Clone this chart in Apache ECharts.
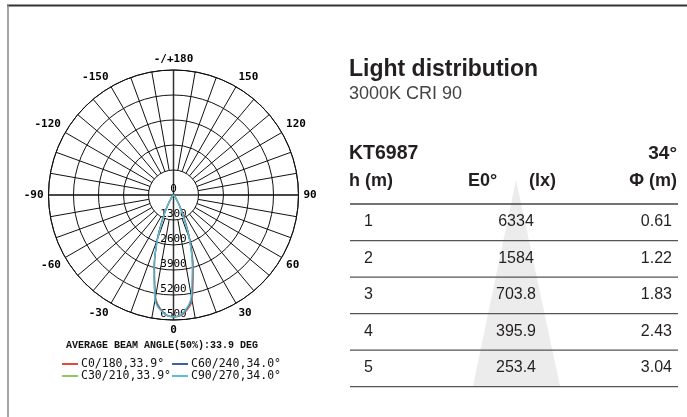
<!DOCTYPE html>
<html>
<head>
<meta charset="utf-8">
<title>Light distribution</title>
<script src="https://cdn.jsdelivr.net/npm/echarts@6.0.0/dist/echarts.min.js"></script>
<style>
  html, body { margin: 0; padding: 0; background: #fff; }
  #chart { width: 687px; height: 417px; }
</style>
</head>
<body>
<div id="chart"></div>
<script>
// gamma angles (deg), 0 = straight down
var gammaDeg = [-90, -80, -70, -60, -50, -45, -40, -35, -30, -25, -20, -15, -10, -5, 0,
                5, 10, 15, 20, 25, 30, 35, 40, 45, 50, 60, 70, 80, 90];

// intensity (cd) per C plane
var c0Data  = [0, 2, 4, 8, 20, 45, 100, 230, 560, 1260, 2450, 3820, 5380, 6120, 6334,
               6180, 5560, 3960, 2520, 1290, 570, 235, 100, 45, 20, 8, 4, 2, 0];
var c30Data = [0, 2, 4, 8, 20, 44, 98, 225, 550, 1240, 2430, 3840, 5420, 6130, 6334,
               6150, 5470, 3880, 2460, 1250, 555, 228, 98, 44, 20, 8, 4, 2, 0];
var c60Data = [0, 2, 4, 8, 20, 46, 102, 232, 565, 1270, 2470, 3880, 5460, 6140, 6334,
               6130, 5420, 3850, 2440, 1240, 550, 226, 98, 44, 20, 8, 4, 2, 0];
var c90Data = [0, 2, 4, 8, 20, 45, 98, 220, 530, 1180, 2400, 3920, 5560, 6160, 6334,
               6100, 5320, 3760, 2380, 1160, 500, 205, 90, 42, 20, 8, 4, 2, 0];

var seriesNames = ['C0/180,33.9°', 'C30/210,33.9°', 'C60/240,34.0°', 'C90/270,34.0°'];
var seriesColors = ['#e8453f', '#8fc85c', '#3d5ea8', '#5cbfd6'];

var radiusTicks = [0, 1300, 2600, 3900, 5200, 6500];
var beamText = 'AVERAGE BEAM ANGLE(50%):33.9 DEG';

// table on the right
var tableTitle = 'Light distribution';
var tableSub = '3000K CRI 90';
var modelName = 'KT6987';
var modelAngle = '34°';
var headers = ['h (m)', 'E0°', '(lx)', 'Φ (m)'];
var heights = ['1', '2', '3', '4', '5'];
var luxValues = ['6334', '1584', '703.8', '395.9', '253.4'];
var diameters = ['0.61', '1.22', '1.83', '2.43', '3.04'];

var monoFont = '"DejaVu Sans Mono", monospace';
var sansFont = '"Liberation Sans", Arial, sans-serif';

var cx = 173.5, cy = 195, R = 125;

function planeData(vals) {
  var out = [];
  for (var i = 0; i < gammaDeg.length; i++) {
    var a = gammaDeg[i] < 0 ? gammaDeg[i] + 360 : gammaDeg[i];
    out.push([vals[i], a]);
  }
  return out;
}

var allData = [c0Data, c30Data, c60Data, c90Data];
var series = [];
for (var s = 0; s < allData.length; s++) {
  series.push({
    name: seriesNames[s],
    type: 'line',
    coordinateSystem: 'polar',
    polarIndex: 0,
    symbol: 'none',
    smooth: 0.35,
    lineStyle: { color: seriesColors[s], width: 1.3 },
    itemStyle: { color: seriesColors[s] },
    data: planeData(allData[s]),
    z: 5
  });
}

// graphic elements for the table
var graphics = [];
// frame
graphics.push({ type: 'line', shape: { x1: 7, y1: 5.5, x2: 687, y2: 5.5 }, style: { stroke: '#333', lineWidth: 2 } });
graphics.push({ type: 'line', shape: { x1: 8, y1: 5, x2: 8, y2: 417 }, style: { stroke: '#888', lineWidth: 1.5 } });
// beam cone
graphics.push({ type: 'polygon', z: 0, shape: { points: [[516, 180], [473, 386], [560, 386]] }, style: { fill: '#ececec' } });

graphics.push({ type: 'text', x: 349, y: 70, style: { text: tableTitle, font: 'bold 23px ' + sansFont, fill: '#231f20', verticalAlign: 'middle' } });
graphics.push({ type: 'text', x: 349, y: 94, style: { text: tableSub, font: '18px ' + sansFont, fill: '#444', verticalAlign: 'middle' } });
graphics.push({ type: 'text', x: 349, y: 153.5, style: { text: modelName, font: 'bold 19.5px ' + sansFont, fill: '#231f20', verticalAlign: 'middle' } });
graphics.push({ type: 'text', x: 677, y: 153.5, style: { text: modelAngle, font: 'bold 19px ' + sansFont, fill: '#231f20', align: 'right', verticalAlign: 'middle' } });

var headX = [349, 468, 529, 677];
var headAlign = ['left', 'left', 'left', 'right'];
for (var h = 0; h < headers.length; h++) {
  graphics.push({ type: 'text', x: headX[h], y: 181.5, style: { text: headers[h], font: 'bold 18px ' + sansFont, fill: '#231f20', align: headAlign[h], verticalAlign: 'middle' } });
}
graphics.push({ type: 'line', shape: { x1: 350, y1: 204, x2: 678, y2: 204 }, style: { stroke: '#444', lineWidth: 1.5 } });

for (var r = 0; r < heights.length; r++) {
  var ty = 221.5 + r * 36.6;
  graphics.push({ type: 'text', x: 364, y: ty, style: { text: heights[r], font: '16px ' + sansFont, fill: '#231f20', verticalAlign: 'middle' } });
  graphics.push({ type: 'text', x: 516, y: ty, style: { text: luxValues[r], font: '16px ' + sansFont, fill: '#231f20', align: 'center', verticalAlign: 'middle' } });
  graphics.push({ type: 'text', x: 672, y: ty, style: { text: diameters[r], font: '16px ' + sansFont, fill: '#231f20', align: 'right', verticalAlign: 'middle' } });
  var ly = 240.6 + r * 36.5;
  graphics.push({ type: 'line', shape: { x1: 350, y1: ly, x2: 678, y2: ly }, style: { stroke: '#555', lineWidth: 1.2 } });
}

graphics.push({ type: 'text', x: 162, y: 345, style: { text: beamText, font: 'bold 10px "Liberation Mono", monospace', fill: '#111', align: 'center', verticalAlign: 'middle' } });

var myChart = echarts.init(document.getElementById('chart'), null, { renderer: 'canvas' });
myChart.setOption({
  animation: false,
  backgroundColor: '#fff',
  polar: [
    { center: [cx, cy], radius: [0, R] },
    { center: [cx, cy], radius: [25, R] }
  ],
  angleAxis: [
    {
      // main cross + outer circle
      polarIndex: 0,
      type: 'value', min: 0, max: 360, interval: 90,
      startAngle: -90, clockwise: false,
      axisLine: { show: true, lineStyle: { color: '#111', width: 1 } },
      axisTick: { show: false },
      axisLabel: { show: false },
      splitLine: { show: true, lineStyle: { color: '#333', width: 1.5 } },
      z: 2
    },
    {
      // 10 deg spokes starting at the inner ring
      polarIndex: 1,
      type: 'value', min: 0, max: 360, interval: 10,
      startAngle: -90, clockwise: false,
      axisLine: { show: false },
      axisTick: { show: false },
      axisLabel: {
        show: true, margin: 5, color: '#000',
        fontFamily: monoFont, fontSize: 11, fontWeight: 'bold',
        formatter: function (v) {
          if (v % 30 !== 0) return '';
          if (v === 180) return '-/+180';
          return v > 180 ? String(v - 360) : String(v);
        }
      },
      splitLine: { show: true, lineStyle: { color: '#111', width: 1 } },
      z: 1
    }
  ],
  radiusAxis: [
    {
      polarIndex: 0,
      type: 'value', min: 0, max: 6500, interval: 1300,
      axisLine: { show: false },
      axisTick: { show: false },
      axisLabel: {
        show: true, margin: 0, align: 'center', verticalAlign: 'bottom',
        color: '#000', fontFamily: monoFont, fontSize: 11,
        formatter: function (v) { return radiusTicks.indexOf(v) >= 0 ? String(v) : ''; }
      },
      splitLine: { show: true, lineStyle: { color: '#111', width: 1 } },
      z: 3
    },
    {
      polarIndex: 1,
      type: 'value', min: 0, max: 1,
      axisLine: { show: false },
      axisTick: { show: false },
      axisLabel: { show: false },
      splitLine: { show: false }
    }
  ],
  legend: [
    {
      data: [seriesNames[0], seriesNames[1]],
      orient: 'vertical', left: 57, top: 353,
      icon: 'rect', itemWidth: 16, itemHeight: 2, itemGap: 0,
      textStyle: { fontFamily: monoFont, fontSize: 11.5, color: '#111', padding: [0, 0, 0, -2] },
      selectedMode: false
    },
    {
      data: [seriesNames[2], seriesNames[3]],
      orient: 'vertical', left: 167, top: 353,
      icon: 'rect', itemWidth: 16, itemHeight: 2, itemGap: 0,
      textStyle: { fontFamily: monoFont, fontSize: 11.5, color: '#111', padding: [0, 0, 0, -2] },
      selectedMode: false
    }
  ],
  graphic: graphics,
  series: series
});
</script>
</body>
</html>
